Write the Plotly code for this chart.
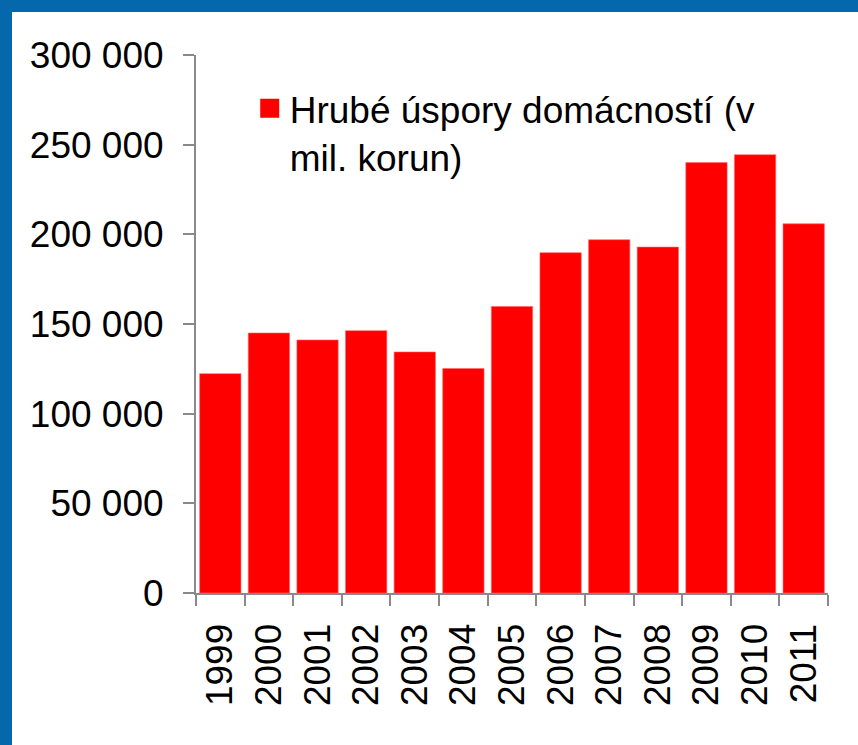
import plotly.graph_objects as go

years = ["1999", "2000", "2001", "2002", "2003", "2004", "2005",
         "2006", "2007", "2008", "2009", "2010", "2011"]
savings = [122300, 145000, 141100, 146300, 134400, 125200, 159800,
           189800, 197000, 192900, 240000, 244400, 205900]
series_name = "Hrubé úspory domácností (v<br>mil. korun)"
y_ticks = [0, 50000, 100000, 150000, 200000, 250000, 300000]
y_tick_labels = ["0", "50 000", "100 000", "150 000", "200 000", "250 000", "300 000"]

W, H = 858, 745
L, R, T, B = 196, 30, 55, 152
pw, ph = W - L - R, H - T - B

def px_x(p):
    return (p - L) / pw

def px_y(p):
    return (H - B - p) / ph

BLUE = "#0568AD"
RED = "#FF0000"
AXIS = "#898989"
FONT = "Liberation Sans, Arial, sans-serif"

fig = go.Figure()
fig.add_trace(go.Bar(
    x=years, y=savings, name=series_name,
    marker=dict(color=RED, line=dict(color="#FF6666", width=0.6)),
    showlegend=False,
))
# legend entry (larger square swatch than a bar legend icon)
fig.add_trace(go.Scatter(
    x=[years[0]], y=[None], name=series_name, mode="markers",
    marker=dict(symbol="square", size=16, color=RED, line=dict(color=RED, width=3)),
    showlegend=True, hoverinfo="skip",
))

fig.update_layout(
    width=W, height=H,
    margin=dict(l=L, r=R, t=T, b=B, pad=0),
    paper_bgcolor="white", plot_bgcolor="white",
    bargap=0.15,
    font=dict(family=FONT, color="black"),
    showlegend=True,
    legend=dict(
        x=0.085, y=0.958, xanchor="left", yanchor="top",
        font=dict(size=37, family=FONT, color="black"),
        bgcolor="rgba(0,0,0,0)", valign="top",
        tracegroupgap=0, itemsizing="trace",
    ),
    xaxis=dict(
        type="category", range=[-0.5, len(years) - 0.5],
        showline=True, linecolor=AXIS, linewidth=2,
        ticks="outside", ticklen=11, tickcolor=AXIS, tickwidth=2,
        tickson="boundaries", tickangle=-90,
        tickfont=dict(size=37, family=FONT, color="black"),
        showgrid=False, zeroline=False, ticklabelstandoff=14,
    ),
    yaxis=dict(
        range=[0, 300000], showline=True, linecolor=AXIS, linewidth=2,
        ticks="outside", ticklen=11, tickcolor=AXIS, tickwidth=2,
        tickvals=y_ticks, ticktext=y_tick_labels,
        tickfont=dict(size=37, family=FONT, color="black"),
        showgrid=False, zeroline=False, ticklabelstandoff=12,
    ),
    shapes=[
        dict(type="rect", xref="paper", yref="paper",
             x0=px_x(0), x1=px_x(W), y0=px_y(12), y1=px_y(0),
             fillcolor=BLUE, line=dict(width=0), layer="above"),
        dict(type="rect", xref="paper", yref="paper",
             x0=px_x(0), x1=px_x(12), y0=px_y(H), y1=px_y(0),
             fillcolor=BLUE, line=dict(width=0), layer="above"),
    ],
)

fig.write_html(
    "out.html",
    config={"displayModeBar": False},
    post_script="document.body.style.margin='0';document.body.style.overflow='hidden';",
)
